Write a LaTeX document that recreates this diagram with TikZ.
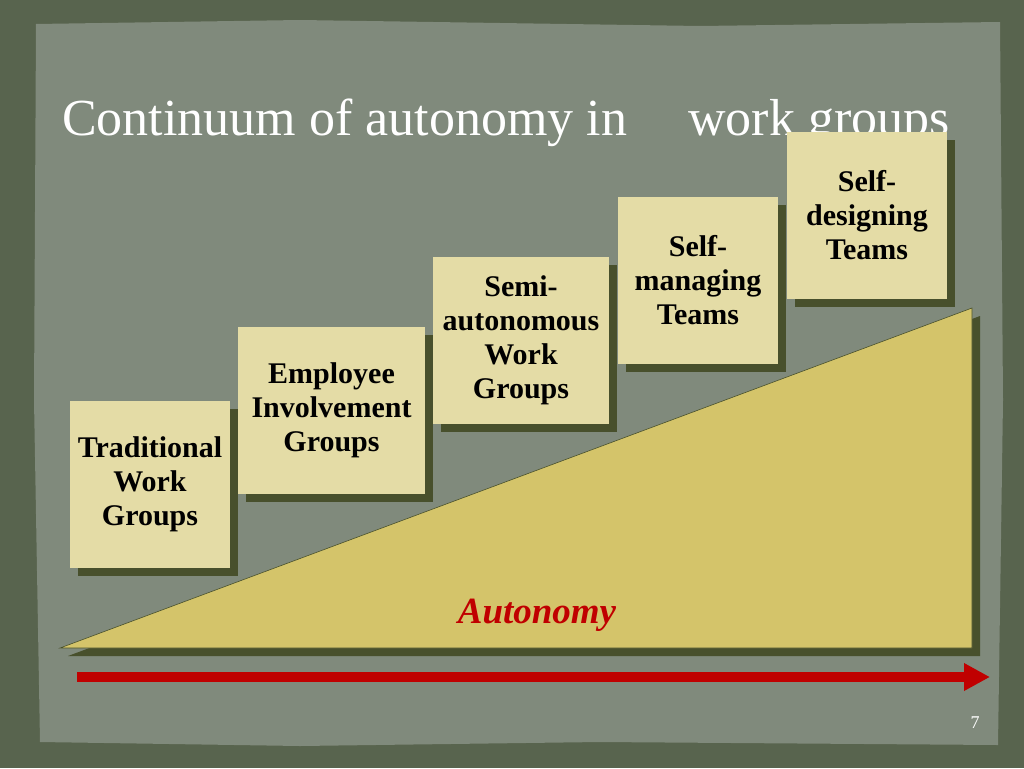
\documentclass[tikz,border=0pt]{standalone}
\usepackage{fontspec}
\setmainfont{Liberation Serif}
\usetikzlibrary{shadows,arrows.meta}
\definecolor{outerbg}{RGB}{88,100,78}
\definecolor{panel}{RGB}{128,138,124}
\definecolor{boxfill}{RGB}{228,220,166}
\definecolor{shadowc}{RGB}{72,80,44}
\definecolor{trifill}{RGB}{212,196,106}
\definecolor{autored}{RGB}{192,0,0}
\begin{document}
\begin{tikzpicture}[x=1pt,y=-1pt,
  darkshadow/.style={drop shadow={shadow xshift=8pt,shadow yshift=-8pt,fill=shadowc,opacity=1}},
  stagebox/.style={rectangle, fill=boxfill, inner sep=0pt, minimum height=167pt,
    align=center, darkshadow, font=\fontsize{30}{34}\selectfont\bfseries},
  titletext/.style={anchor=base west, text=white, inner sep=0pt, font=\fontsize{52}{52}\selectfont}
]
\useasboundingbox (0,0) rectangle (1024,768);
\fill[outerbg] (0,0) rectangle (1024,768);
\fill[panel] (36,24) -- (300,20) -- (700,26) -- (1000,22) -- (1003,400) -- (998,745) -- (600,742) -- (300,746) -- (40,742) -- (34,400) -- cycle;

% title
\node[titletext] (t1) at (62,135) {Continuum of autonomy in};
\node[titletext] (t2) at (688,135) {work groups};

% triangle
\fill[trifill, draw=shadowc, line width=0.6pt, darkshadow] (60,648) -- (972,308) -- (972,648) -- cycle;
\node[text=autored, font=\fontsize{37}{37}\selectfont\bfseries\itshape] (auto) at (537,615) {Autonomy};

% boxes
\node[stagebox, minimum width=160pt] (b1) at (150,484.5) {Traditional\\Work\\Groups};
\node[stagebox, minimum width=187pt] (b2) at (331.5,410.5) {Employee\\Involvement\\Groups};
\node[stagebox, minimum width=176pt] (b3) at (521,340.5) {Semi-\\autonomous\\Work\\Groups};
\node[stagebox, minimum width=160pt] (b4) at (698,280.5) {Self-\\managing\\Teams};
\node[stagebox, minimum width=160pt] (b5) at (867,215.5) {Self-\\designing\\Teams};

% arrow
\coordinate (as) at (77,677);
\coordinate (ae) at (990,677);
\draw[autored, line width=10pt, -{Triangle[length=26pt,width=26pt]}] (as) -- (ae);

% page number
\node[text=white, font=\fontsize{18}{18}\selectfont] (pg) at (975,723) {7};
\end{tikzpicture}
\end{document}
